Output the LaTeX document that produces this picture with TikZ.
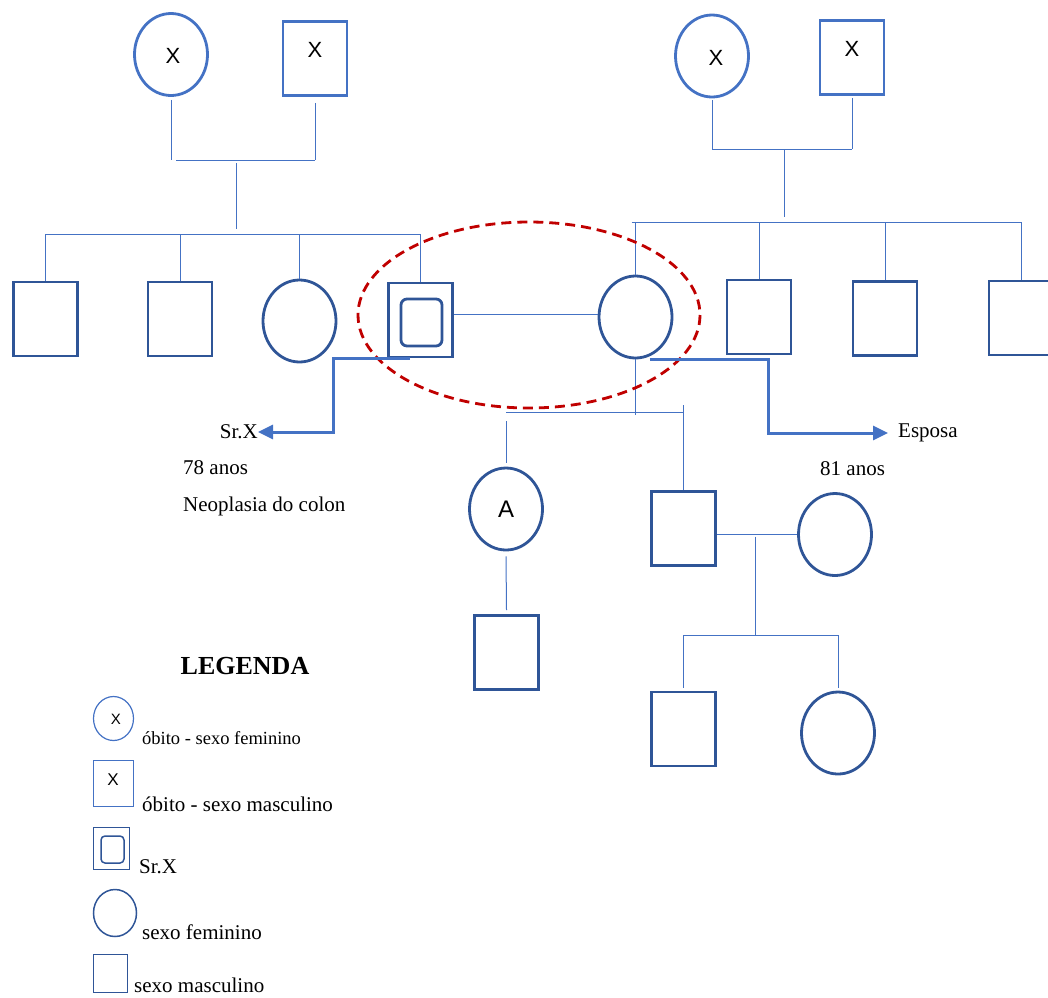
\documentclass[tikz,border=0pt]{standalone}
\usepackage{fontspec}
\setmainfont{Liberation Serif}
\newfontfamily\sansx{Liberation Sans}
\usetikzlibrary{shapes.geometric,arrows.meta,calc}
\definecolor{dblue}{RGB}{47,85,151}
\definecolor{lblue}{RGB}{68,114,196}
\definecolor{dred}{RGB}{192,0,0}
\tikzset{
  male/.style={rectangle,draw=dblue,line width=2.8pt,minimum width=64pt,minimum height=74pt,inner sep=0pt},
  female/.style={ellipse,draw=dblue,line width=2.8pt,minimum width=73pt,minimum height=82pt,inner sep=0pt},
  dead/.style={draw=lblue},
  link/.style={draw=lblue,line width=1pt},
  arr/.style={draw=lblue,line width=3pt,-{Triangle[length=15pt,width=14pt]}},
  lbl/.style={font=\fontsize{21}{24}\selectfont,inner sep=0pt,anchor=west},
  xsign/.style={font=\sansx\fontsize{22}{24}\selectfont,inner sep=0pt}
}
\begin{document}
\begin{tikzpicture}[x=1pt,y=-1pt]
\useasboundingbox (0,0) rectangle (1048,997);
% grandparents
\node[female,dead] (gmL) at (171,54.5) {};
\node[xsign] (gmLx) at (173,56) {X};
\node[male,dead] (gfL) at (315,58.5) {};
\node[xsign] (gfLx) at (315,50) {X};
\node[female,dead] (gmR) at (712,56) {};
\node[xsign] (gmRx) at (716,58) {X};
\node[male,dead] (gfR) at (852,57.5) {};
\node[xsign] (gfRx) at (852,49) {X};
% siblings
\node[male] (s1) at (45.5,319) {};
\node[male] (s2) at (180,319) {};
\node[female] (s3) at (299.5,321) {};
\node[male] (srx) at (420.5,320) {};
\node[draw=dblue,line width=2.8pt,rounded corners=6pt,minimum width=41pt,minimum height=47pt,inner sep=0pt] (srxin) at (421.5,322.5) {};
\node[female] (wife) at (635.5,317) {};
\node[male] (r1) at (759,317) {};
\node[male] (r2) at (885,318.5) {};
\node[male] (r3) at (1021,318) {};
% children
\node[female,font=\sansx\fontsize{24}{26}\selectfont] (ca) at (506,509) {A};
\node[male] (cb) at (683.5,528.5) {};
\node[female] (cbw) at (835,534.5) {};
\node[male] (ga) at (506.5,652.5) {};
\node[male] (gb) at (683.5,729) {};
\node[female] (gc) at (838,733) {};

% lines left family
\coordinate (barL) at (236,160);
\coordinate (sibL) at (236,234);
\draw[link] ([yshift=-3pt]gmL.south) -- (gmL.south |- barL);
\draw[link] ([yshift=-6pt]gfL.south) -- (gfL.south |- barL);
\draw[link] ([xshift=5pt]gmL.south |- barL) -- (gfL.south |- barL);
\draw[link] ([yshift=-3pt]barL) -- ([yshift=5pt]sibL);
\draw[link] (s1.north |- sibL) -- (srx.north |- sibL);
\foreach \n in {s1,s2,s3,srx} \draw[link] (\n.north |- sibL) -- (\n.north);
% lines right family
\coordinate (barR) at (784,149);
\coordinate (sibR) at (784,222);
\draw[link] ([yshift=-2pt]gmR.south) -- (gmR.south |- barR);
\draw[link] ([yshift=-2pt]gfR.south) -- (gfR.south |- barR);
\draw[link] (gmR.south |- barR) -- (gfR.south |- barR);
\draw[link] (barR) -- ([yshift=5pt]sibR);
\draw[link] ([xshift=-4pt]wife.north |- sibR) -- (r3.north |- sibR);
\foreach \n in {wife,r1,r2,r3} \draw[link] (\n.north |- sibR) -- (\n.north);
% couple and children
\draw[link] ([yshift=6pt]srx.east) -- ([yshift=6pt]srx.east -| wife.west);
\coordinate (kid) at (634,412);
\draw[link] (wife.south) -- ([yshift=-3pt]wife.south |- kid);
\draw[link] (ca.north |- kid) -- (cb.north |- kid);
\draw[link] ([yshift=7pt]cb.north |- kid) -- (cb.north);
\draw[link] ([yshift=-9pt]ca.north |- kid) -- ([yshift=4pt]ca.north);
\draw[link] ([yshift=-5pt]ca.south) -- ([yshift=4pt]ga.north);
\draw[link] (cb.east |- cbw.west) -- (cbw.west);
\coordinate (kid2) at (755,635);
\draw[link] ([yshift=-2pt]kid2 |- cbw.west) -- (kid2);
\draw[link] (gb.north |- kid2) -- (gc.north |- kid2);
\foreach \n in {gb,gc} \draw[link] (\n.north |- kid2) -- ([yshift=3pt]\n.north);

% couple highlight
\draw[dred,line width=2.8pt,dash pattern=on 10pt off 6pt] (529,315) ellipse [x radius=171, y radius=93];

% labels
\node[lbl,anchor=east] (srxl) at (258,432) {Sr.X};
\node[lbl] (esp) at (898,433) {Esposa};
\node[lbl] (age1) at (183,468) {78 anos};
\node[lbl] (diag) at (183,506) {Neoplasia do colon};
\node[lbl] (age2) at (820,469) {81 anos};
\draw[arr] ([xshift=-11pt]srx.south) -- ++(-76,0) |- (srxl.east);
\draw[arr] ([xshift=14pt]wife.south) -- ++(119,0) |- ([xshift=-10pt]esp.west);

% legend
\node[font=\bfseries\fontsize{26}{28}\selectfont,inner sep=0pt] (leg) at (245,666) {LEGENDA};
\node[female,dead,line width=1.2pt,minimum width=40pt,minimum height=44pt] (lg1) at (113.5,718.5) {};
\node[xsign,font=\sansx\fontsize{15}{17}\selectfont] (lg1x) at (116,719) {X};
\node[lbl,font=\fontsize{18.5}{20}\selectfont] (lg1t) at (142,738) {óbito - sexo feminino};
\node[male,dead,line width=1.2pt,minimum width=40pt,minimum height=46pt] (lg2) at (113.5,783.5) {};
\node[xsign,font=\sansx\fontsize{17}{19}\selectfont] (lg2x) at (113,780) {X};
\node[lbl] (lg2t) at (142,804) {óbito - sexo masculino};
\node[male,line width=1.5pt,minimum width=36pt,minimum height=42pt] (lg3) at (111.5,848.5) {};
\node[draw=dblue,line width=1.5pt,rounded corners=4pt,minimum width=23pt,minimum height=27pt,inner sep=0pt] (lg3in) at (112.5,849.5) {};
\node[lbl] (lg3t) at (139,867) {Sr.X};
\node[female,line width=1.5pt,minimum width=43pt,minimum height=47pt] (lg4) at (115,913) {};
\node[lbl] (lg4t) at (142,932) {sexo feminino};
\node[male,line width=1.5pt,minimum width=34pt,minimum height=38pt] (lg5) at (110.5,973.5) {};
\node[lbl] (lg5t) at (134,985) {sexo masculino};
\end{tikzpicture}
\end{document}
